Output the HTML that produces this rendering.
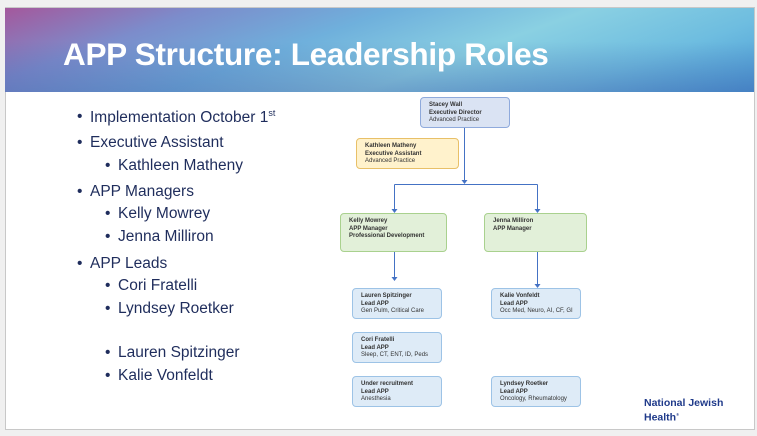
<!DOCTYPE html>
<html><head><meta charset="utf-8"><style>
body{margin:0;width:757px;height:436px;background:#f0f0f0;position:relative;overflow:hidden;font-family:"Liberation Sans",sans-serif}
#slide{position:absolute;left:5px;top:7px;width:748px;height:421px;background:#fff;border:1px solid #c8c8c8}
#hdr{position:absolute;left:5px;top:8px;width:749px;height:84px;background:linear-gradient(160deg,#a4589c 0%,#7c8ccb 20%,#6fb0dc 40%,#8ad0e2 60%,#6ebde0 80%,#4a9bd6 100%)}
#hdr:after{content:"";position:absolute;left:0;top:0;right:0;bottom:0;background:linear-gradient(0deg,rgba(60,80,160,.35),rgba(0,0,0,0) 60%)}
#title{position:absolute;left:63px;top:36px;color:#fff;font-weight:bold;font-size:31.5px;z-index:2;letter-spacing:-0.3px}
.b{position:absolute;color:#1f2d5c;font-size:15.5px;white-space:nowrap}
.b:before{content:"•";position:absolute;left:-13px}
.box{position:absolute;box-sizing:border-box;border-radius:4px;font-size:6px;line-height:7.5px;padding:4px 0 0 8px;color:#333}
.box b{font-weight:bold}
.bl{background:#dae3f3;border:1px solid #8faadc}
.y{background:#fff2cc;border:1px solid #e8c068}
.g{background:#e2f0d9;border:1px solid #a9d18e}
.lb{background:#deebf7;border:1px solid #9dc3e6}
</style></head><body>
<div id="slide"></div>
<div id="hdr"></div>
<div id="title">APP Structure: Leadership Roles</div>

<div class="b" style="left:90px;top:108px">Implementation October 1<sup style="font-size:9px">st</sup></div>
<div class="b" style="left:90px;top:134px">Executive Assistant</div>
<div class="b" style="left:118px;top:157px">Kathleen Matheny</div>
<div class="b" style="left:90px;top:183px">APP Managers</div>
<div class="b" style="left:118px;top:205px">Kelly Mowrey</div>
<div class="b" style="left:118px;top:228px">Jenna Milliron</div>
<div class="b" style="left:90px;top:255px">APP Leads</div>
<div class="b" style="left:118px;top:277px">Cori Fratelli</div>
<div class="b" style="left:118px;top:300px">Lyndsey Roetker</div>
<div class="b" style="left:118px;top:344px">Lauren Spitzinger</div>
<div class="b" style="left:118px;top:367px">Kalie Vonfeldt</div>

<svg style="position:absolute;left:0;top:0" width="757" height="436">
<g stroke="#4472c4" stroke-width="1" fill="none">
<path d="M464.5 128V181M394.5 184.5H537.5M394.5 184.5V210M537.5 184.5V210M394.5 251V277M537.5 251V285"/>
</g>
<g fill="#4472c4">
<path d="M461.5 180h6l-3 4z"/><path d="M391.5 209h6l-3 4z"/><path d="M534.5 209h6l-3 4z"/><path d="M391.5 277h6l-3 4z"/><path d="M534.5 284h6l-3 4z"/>
</g>
</svg>

<div class="box bl" style="left:420px;top:97px;width:90px;height:31px"><b>Stacey Wall<br>Executive Director</b><br>Advanced Practice</div>
<div class="box y" style="left:356px;top:138px;width:103px;height:31px"><b>Kathleen Matheny<br>Executive Assistant</b><br>Advanced Practice</div>
<div class="box g" style="left:340px;top:213px;width:107px;height:39px"><b>Kelly Mowrey<br>APP Manager<br>Professional Development</b></div>
<div class="box g" style="left:484px;top:213px;width:103px;height:39px"><b>Jenna Milliron<br>APP Manager</b></div>
<div class="box lb" style="left:352px;top:288px;width:90px;height:31px"><b>Lauren Spitzinger<br>Lead APP</b><br>Gen Pulm, Critical Care</div>
<div class="box lb" style="left:491px;top:288px;width:90px;height:31px"><b>Kalie Vonfeldt<br>Lead APP</b><br>Occ Med, Neuro, AI, CF, GI</div>
<div class="box lb" style="left:352px;top:332px;width:90px;height:31px"><b>Cori Fratelli<br>Lead APP</b><br>Sleep, CT, ENT, ID, Peds</div>
<div class="box lb" style="left:352px;top:376px;width:90px;height:31px"><b>Under recruitment<br>Lead APP</b><br>Anesthesia</div>
<div class="box lb" style="left:491px;top:376px;width:90px;height:31px"><b>Lyndsey Roetker<br>Lead APP</b><br>Oncology, Rheumatology</div>

<div style="position:absolute;left:644px;top:397px;color:#1f3a8a;font-weight:bold;font-size:10.5px;line-height:12px">National Jewish<br>Health<sup style="font-size:4px">®</sup></div>
</body></html>
